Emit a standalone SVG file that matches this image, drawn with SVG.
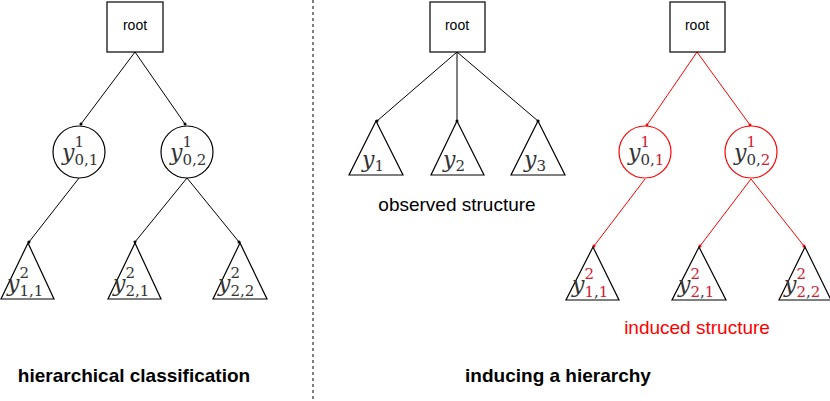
<svg xmlns="http://www.w3.org/2000/svg" width="830" height="401" viewBox="0 0 830 401">
<defs>
<marker id="ab" markerWidth="4" markerHeight="4" refX="2" refY="2" orient="auto"><circle cx="2" cy="2" r="1.5" fill="#000"/></marker>
<marker id="ar" markerWidth="4" markerHeight="4" refX="2" refY="2" orient="auto"><circle cx="2" cy="2" r="1.5" fill="red"/></marker>
<style>
.n{fill:#fff;stroke:#000;stroke-width:1.2}
.r{fill:#fff;stroke:red;stroke-width:1.2}
.lb{font-family:"Liberation Sans",sans-serif;font-size:14px}
.m{font-family:"DejaVu Serif","Liberation Serif",serif;font-style:italic;font-size:22px;fill:#333}
.s{font-family:"DejaVu Serif","Liberation Serif",serif;font-style:normal;font-size:15px;fill:#333}
.red{fill:#d02030}
.t{font-family:"Liberation Sans",sans-serif;font-size:19px}
.e{stroke:#000;stroke-width:1;marker-end:url(#ab)}
.er{stroke:red;stroke-width:1;marker-end:url(#ar)}
</style>
</defs>
<line x1="313" y1="0" x2="313" y2="401" stroke="#000" stroke-dasharray="3,3"/>
<g id="connectors">
<line class="e" x1="135" y1="52" x2="81" y2="124"/>
<line class="e" x1="135" y1="52" x2="185" y2="124"/>
<line class="e" x1="79" y1="178" x2="29" y2="242"/>
<line class="e" x1="187" y1="178" x2="135" y2="242"/>
<line class="e" x1="187" y1="178" x2="239" y2="242"/>
<line class="e" x1="457" y1="52" x2="377" y2="121"/>
<line class="e" x1="457" y1="52" x2="457" y2="121"/>
<line class="e" x1="457" y1="52" x2="538" y2="121"/>
<line class="er" x1="697" y1="52" x2="647" y2="125"/>
<line class="er" x1="697" y1="52" x2="750" y2="125"/>
<line class="er" x1="645" y1="179" x2="594" y2="246"/>
<line class="er" x1="751" y1="179" x2="700" y2="246"/>
<line class="er" x1="751" y1="179" x2="804" y2="246"/>
</g>
<g id="root1"><rect class="n" x="107" y="2" width="56" height="50"/><text class="lb" x="135" y="30" text-anchor="middle">root</text></g>
<g id="c1"><circle class="n" cx="79" cy="152" r="26"/><text class="m" x="62" y="160">y<tspan class="s" dy="-13">1</tspan><tspan class="s" dx="-9.5" dy="18">0,1</tspan></text></g>
<g id="c2"><circle class="n" cx="187" cy="152" r="26"/><text class="m" x="170" y="160">y<tspan class="s" dy="-13">1</tspan><tspan class="s" dx="-9.5" dy="18">0,2</tspan></text></g>
<g id="t1"><polygon class="n" points="28,243 1,299 54,299"/><text class="m" x="7" y="291">y<tspan class="s" dy="-13">2</tspan><tspan class="s" dx="-9.5" dy="18">1,1</tspan></text></g>
<g id="t2"><polygon class="n" points="135,243 108,299 161,299"/><text class="m" x="113" y="291">y<tspan class="s" dy="-13">2</tspan><tspan class="s" dx="-9.5" dy="18">2,1</tspan></text></g>
<g id="t3"><polygon class="n" points="240,243 213,299 267,299"/><text class="m" x="218" y="291">y<tspan class="s" dy="-13">2</tspan><tspan class="s" dx="-9.5" dy="18">2,2</tspan></text></g>
<text class="t" x="134" y="382" text-anchor="middle" font-weight="bold">hierarchical classification</text>

<g id="root2"><rect class="n" x="430" y="2" width="55" height="50"/><text class="lb" x="457" y="30" text-anchor="middle">root</text></g>
<g id="o1"><polygon class="n" points="376,121 349,175 403,175"/><text class="m" x="362" y="167">y<tspan class="s" dy="4">1</tspan></text></g>
<g id="o2"><polygon class="n" points="457,121 431,175 484,175"/><text class="m" x="443" y="167">y<tspan class="s" dy="4">2</tspan></text></g>
<g id="o3"><polygon class="n" points="538,121 511,175 565,175"/><text class="m" x="524" y="167">y<tspan class="s" dy="4">3</tspan></text></g>
<text class="t" x="457" y="211" text-anchor="middle">observed structure</text>

<g id="root3"><rect class="n" x="670" y="2" width="55" height="50"/><text class="lb" x="697" y="30" text-anchor="middle">root</text></g>
<g id="rc1"><circle class="r" cx="645" cy="152" r="26"/><text class="m" x="628" y="160">y<tspan class="s red" dy="-13">1</tspan><tspan class="s" dx="-9.5" dy="18">0,</tspan><tspan class="s red">1</tspan></text></g>
<g id="rc2"><circle class="r" cx="751" cy="152" r="26"/><text class="m" x="734" y="160">y<tspan class="s red" dy="-13">1</tspan><tspan class="s" dx="-9.5" dy="18">0,</tspan><tspan class="s red">2</tspan></text></g>
<g id="rt1"><polygon class="n" points="593,247 566,300 619,300"/><text class="m" x="572" y="292">y<tspan class="s red" dy="-13">2</tspan><tspan class="s red" dx="-9.5" dy="18">1</tspan><tspan class="s">,</tspan><tspan class="s red">1</tspan></text></g>
<g id="rt2"><polygon class="n" points="699,247 672,300 726,300"/><text class="m" x="678" y="292">y<tspan class="s red" dy="-13">2</tspan><tspan class="s red" dx="-9.5" dy="18">2</tspan><tspan class="s">,</tspan><tspan class="s red">1</tspan></text></g>
<g id="rt3"><polygon class="n" points="805,247 779,300 831,300"/><text class="m" x="784" y="292">y<tspan class="s red" dy="-13">2</tspan><tspan class="s red" dx="-9.5" dy="18">2</tspan><tspan class="s">,</tspan><tspan class="s red">2</tspan></text></g>
<text class="t" x="697" y="334" text-anchor="middle" fill="red">induced structure</text>
<text class="t" x="558" y="382" text-anchor="middle" font-weight="bold">inducing a hierarchy</text>
</svg>
